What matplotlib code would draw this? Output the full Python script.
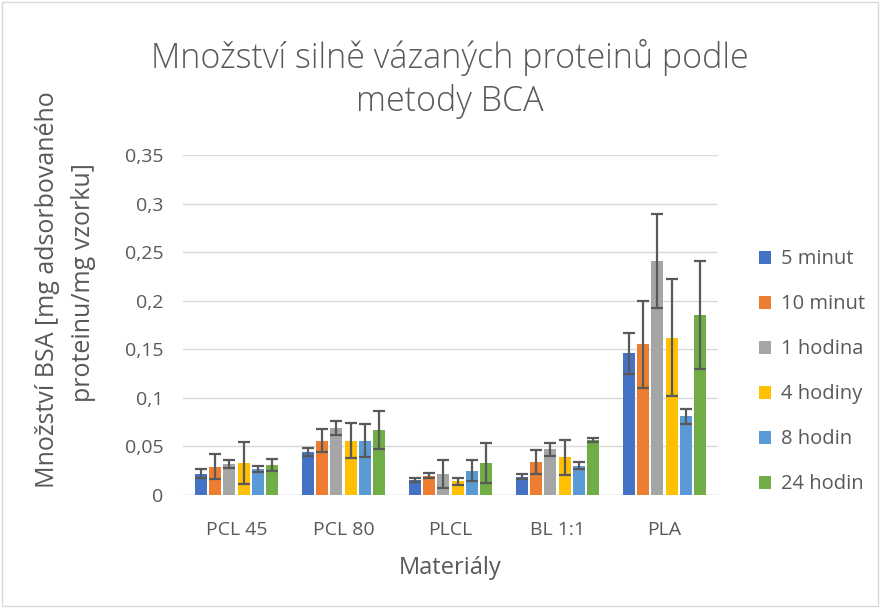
import numpy as np
import matplotlib.pyplot as plt
from matplotlib.patches import Rectangle

materials = ["PCL 45", "PCL 80", "PLCL", "BL 1:1", "PLA"]
times = ["5 minut", "10 minut", "1 hodina", "4 hodiny", "8 hodin", "24 hodin"]
colors = ["#4472C4", "#ED7D31", "#A5A5A5", "#FFC000", "#5B9BD5", "#70AD47"]

# mean adsorbed BSA per material, one row per time point
means = [
    [0.022, 0.044, 0.015, 0.019, 0.146],
    [0.029, 0.056, 0.020, 0.034, 0.155],
    [0.032, 0.069, 0.022, 0.047, 0.241],
    [0.033, 0.056, 0.014, 0.039, 0.162],
    [0.027, 0.056, 0.025, 0.030, 0.081],
    [0.031, 0.067, 0.033, 0.057, 0.185],
]
errors = [
    [0.005, 0.004, 0.002, 0.003, 0.021],
    [0.013, 0.012, 0.0025, 0.012, 0.045],
    [0.004, 0.0075, 0.0145, 0.007, 0.048],
    [0.022, 0.018, 0.0035, 0.018, 0.060],
    [0.003, 0.017, 0.011, 0.0035, 0.008],
    [0.006, 0.0195, 0.0205, 0.002, 0.0555],
]
ylabel_lines = ["Množství BSA [mg adsorbovaného", "proteinu/mg vzorku]"]

text_col = "#595959"
grid_col = "#D9D9D9"
plt.rcParams['font.family'] = ['Open Sans', 'DejaVu Sans']

fig = plt.figure(figsize=(8.8, 6.1), dpi=100)
ax = fig.add_axes([183/880, 115/610, 535/880, 340/610])

x = np.arange(len(materials))
step = 0.133
width = 0.112
for i, (t, c) in enumerate(zip(times, colors)):
    pos = x + (i - 2.5) * step
    ax.bar(pos, means[i], width, color=c, label=t, zorder=2)
    ax.errorbar(pos, means[i], yerr=errors[i], fmt='none', ecolor=text_col,
                elinewidth=1.6, capsize=4.5, capthick=1.6, zorder=3)

ax.set_xlim(-0.5, len(materials) - 0.5)
ax.set_ylim(0, 0.35)
yt = np.arange(0, 0.351, 0.05)
ax.set_yticks(yt)
ax.set_yticklabels([("%g" % round(v, 2)).replace('.', ',') for v in yt])
ax.set_xticks(x)
ax.set_xticklabels(materials)
ax.grid(axis='y', color=grid_col, linewidth=1, zorder=0)
ax.set_axisbelow(True)
for s in ax.spines.values():
    s.set_visible(False)
ax.axhline(0, color=grid_col, linewidth=1, zorder=1)
ax.tick_params(length=0, labelsize=14, colors=text_col)
ax.tick_params(axis='x', pad=19)
ax.tick_params(axis='y', pad=14)

ax.set_xlabel("Materiály", fontsize=17, color=text_col)
ax.xaxis.set_label_coords(0.5, -0.18)
# two-line y title, lines placed separately to keep them tight
for line, xp, yp in zip(ylabel_lines, [48, 83], [290, 283]):
    fig.text(xp/880, 1 - yp/610, line, rotation=90, ha='center', va='center',
             fontsize=18, color=text_col)
fig.text(0.511, 1 - 79/610, "Množství silně vázaných proteinů podle\nmetody BCA",
         ha='center', va='center', fontsize=24.5, color=text_col,
         fontweight='light', linespacing=1.3)

leg = ax.legend(loc='center left', bbox_to_anchor=(1.077, 0.362), frameon=False,
                fontsize=14.5, labelspacing=1.24, handlelength=0.6, handleheight=0.6,
                handletextpad=0.5, borderaxespad=0, borderpad=0)
for txt in leg.get_texts():
    txt.set_color(text_col)

fig.patches.append(Rectangle((0.002, 0.006), 0.996, 0.99, transform=fig.transFigure,
                             fill=False, edgecolor=grid_col, linewidth=1))

fig.savefig("out.png", dpi=100)
